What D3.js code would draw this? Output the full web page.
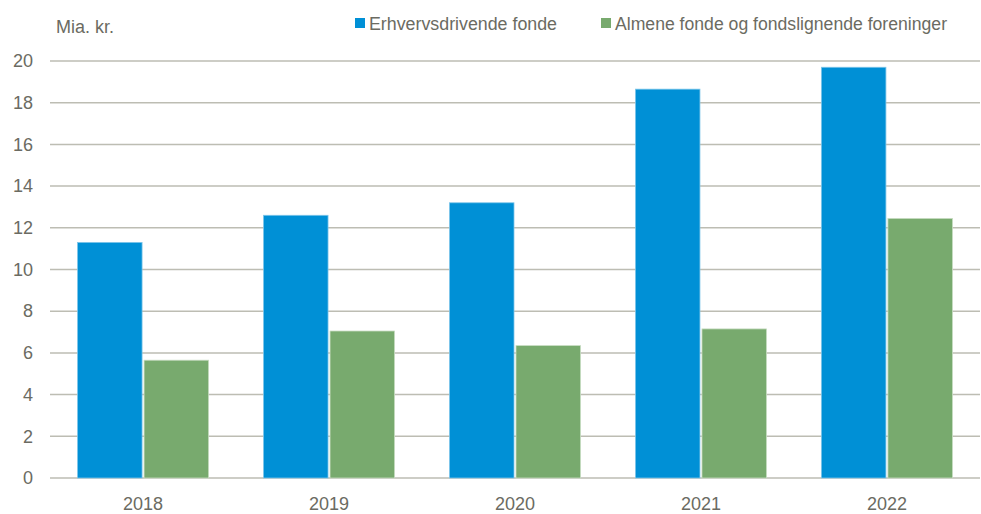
<!DOCTYPE html>
<html><head><meta charset="utf-8">
<script src="https://cdn.jsdelivr.net/npm/d3@7"></script>
<style>body{margin:0;background:#fff}svg{display:block}text{font-family:"Liberation Sans",Arial,sans-serif}</style>
</head><body><svg id="c" width="981" height="514"></svg>
<script>
const years = ["2018","2019","2020","2021","2022"];
const seriesNames = ["Erhvervsdrivende fonde","Almene fonde og fondslignende foreninger"];
const erhverv = [11.3, 12.6, 13.2, 18.65, 19.7];
const almene = [5.65, 7.05, 6.35, 7.15, 12.45];
const yTicks = [0,2,4,6,8,10,12,14,16,18,20];
const colors = ["#0090d6","#78aa6e"];
const textColor = "#6b6b62";

const svg = d3.select("#c");
const m = {left:50, right:1, top:61, bottom:36};
const W = 981, H = 514;
const x = d3.scaleBand().domain(years).range([m.left, W-m.right]).paddingInner(0.295).paddingOuter(0.148);
const x1 = d3.scaleBand().domain([0,1]).range([0, x.bandwidth()]).paddingInner(0.03);
const y = d3.scaleLinear().domain([0,20]).range([H-m.bottom, m.top]);

// grid
svg.append("g").selectAll("line").data(yTicks).join("line")
  .attr("x1", m.left).attr("x2", W-m.right)
  .attr("y1", d=>y(d)).attr("y2", d=>y(d))
  .attr("stroke","#bdbdb3").attr("stroke-width",1.5);

const yAxis = d3.axisLeft(y).tickValues(yTicks).tickSize(0).tickPadding(0);
const ya = svg.append("g").attr("transform",`translate(${m.left-17},0)`).call(yAxis);
ya.select(".domain").remove();
ya.selectAll("text").attr("font-size",18).attr("fill",textColor).attr("font-family","Liberation Sans, Arial, sans-serif");

const series = [erhverv, almene];
const g = svg.append("g");
series.forEach((vals,si)=>{
  g.selectAll(null).data(vals).join("rect")
    .attr("x",(d,i)=>x(years[i])+x1(si))
    .attr("y",d=>y(d))
    .attr("width",x1.bandwidth())
    .attr("height",d=>y(0)-y(d))
    .attr("fill",colors[si])
    .attr("stroke", si===0 ? "#7fc6ea" : "#c8dcc2").attr("stroke-width",0.8);
});

const xAxis = d3.axisBottom(x).tickSize(0).tickPadding(0);
const xa = svg.append("g").attr("transform",`translate(0,${y(0)+26})`).call(xAxis);
xa.select(".domain").remove();
xa.selectAll("text").attr("font-size",18).attr("fill",textColor).attr("font-family","Liberation Sans, Arial, sans-serif").attr("dy","0.32em");

svg.append("text").attr("x",56).attr("y",33).attr("font-size",18).attr("fill",textColor).text("Mia. kr.");

const legX = [355, 601];
const leg = svg.append("g");
seriesNames.forEach((n,i)=>{
  leg.append("rect").attr("x",legX[i]).attr("y",18).attr("width",10).attr("height",10).attr("fill",colors[i]);
  leg.append("text").attr("x",legX[i]+14).attr("y",30).attr("font-size",18).attr("fill",textColor)
    .attr("textLength", i===0 ? 188 : 332).attr("lengthAdjust","spacingAndGlyphs").text(n);
});
</script></body></html>
